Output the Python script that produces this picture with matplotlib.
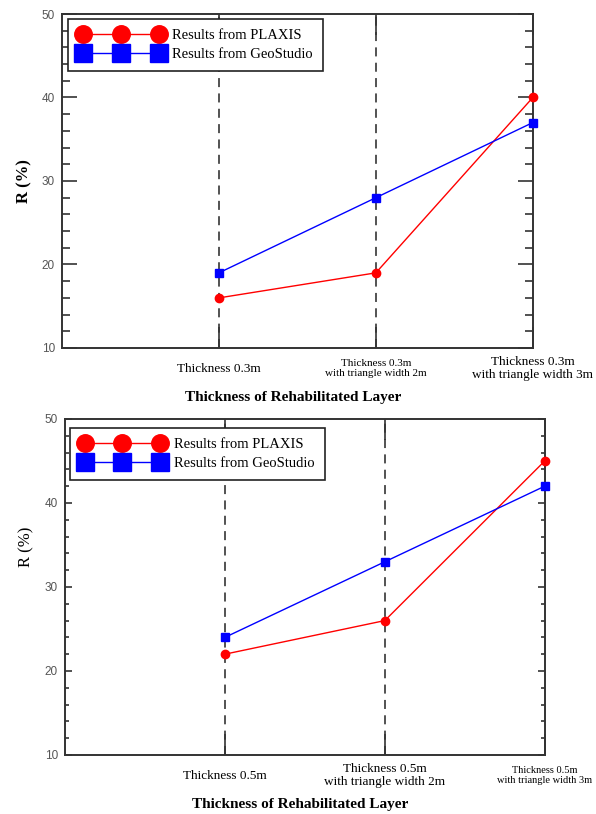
import matplotlib
matplotlib.use('Agg')
import matplotlib.pyplot as plt
from matplotlib.ticker import MultipleLocator

# rehabilitation cases on the x axis
cases = [1, 2, 3]

labels_03 = ['Thickness 0.3m',
             'Thickness 0.3m\nwith triangle width 2m',
             'Thickness 0.3m\nwith triangle width 3m']
labels_05 = ['Thickness 0.5m',
             'Thickness 0.5m\nwith triangle width 2m',
             'Thickness 0.5m\nwith triangle width 3m']

# R (%) values
plaxis_03 = [16, 19, 40]
geostudio_03 = [19, 28, 37]
plaxis_05 = [22, 26, 45]
geostudio_05 = [24, 33, 42]

serif = 'Liberation Serif'
sans = 'Liberation Sans'


def draw_panel(ax, labels, plaxis, geo, label_sizes, ylabel_weight, ylab_y,
               ymaj_len, ymin_len, leg_anchor):
    for x in cases[:-1]:
        ax.axvline(x, color='#444444', lw=1.3, ls=(0, (5, 3.5)), zorder=1)

    ax.plot(cases, plaxis, color='#ff0000', lw=1, marker='o', ms=6,
            label='Results from PLAXIS', zorder=3, clip_on=False)
    ax.plot(cases, geo, color='#0000ff', lw=1, marker='s', ms=6,
            label='Results from GeoStudio', zorder=3, clip_on=False)

    ax.set_xlim(0, 3)
    ax.set_ylim(10, 50)
    ax.set_yticks([10, 20, 30, 40, 50])
    ax.yaxis.set_minor_locator(MultipleLocator(2))
    ax.set_xticks(cases, labels)

    ax.tick_params(axis='y', which='major', direction='in', length=ymaj_len,
                   width=1.2, color='#333333', left=True, right=True,
                   labelsize=8.5, labelcolor='#555555', pad=5)
    ax.tick_params(axis='y', which='minor', direction='in', length=ymin_len,
                   width=1.2, color='#333333', left=True, right=True)
    ax.tick_params(axis='x', which='major', direction='in', length=15,
                   width=1.2, color='#333333', top=True, bottom=True, pad=15)
    for t in ax.get_yticklabels():
        t.set_fontfamily(sans)
    for t, s in zip(ax.get_xticklabels(), label_sizes):
        t.set_fontfamily(serif)
        t.set_fontsize(s)
        t.set_verticalalignment('center')
        t.set_linespacing(1.15)

    for sp in ax.spines.values():
        sp.set_color('#333333')
        sp.set_linewidth(1.4)

    ax.set_xlabel('Thickness of Rehabilitated Layer', family=serif,
                  fontsize=11, fontweight='bold')
    ax.xaxis.set_label_coords(0.49, -0.128)
    ax.set_ylabel('R (%)', family=serif, fontsize=12, fontweight=ylabel_weight)
    ax.yaxis.set_label_coords(-0.063, ylab_y)

    leg = ax.legend(loc='upper left', bbox_to_anchor=leg_anchor,
                    borderaxespad=0, numpoints=3, markerscale=2.1,
                    handlelength=5.8, handletextpad=0.65, borderpad=0.7,
                    labelspacing=0.35, fancybox=False, framealpha=1,
                    prop={'family': serif, 'size': 10.5})
    leg.get_frame().set_edgecolor('#222222')
    leg.get_frame().set_linewidth(1.2)


fig = plt.figure(figsize=(5.96, 8.14), dpi=100)
ax1 = fig.add_axes([0.104, 0.5725, 0.790, 0.4103])
ax2 = fig.add_axes([0.109, 0.0725, 0.805, 0.4128])

draw_panel(ax1, labels_03, plaxis_03, geostudio_03, [9.5, 8, 9.5], 'bold',
           0.5, 11, 6, (0.013, 0.985))
draw_panel(ax2, labels_05, plaxis_05, geostudio_05, [9.5, 9.5, 7.5], 'normal',
           0.62, 5, 3, (0.0104, 0.973))

fig.savefig('out.png', dpi=100)
